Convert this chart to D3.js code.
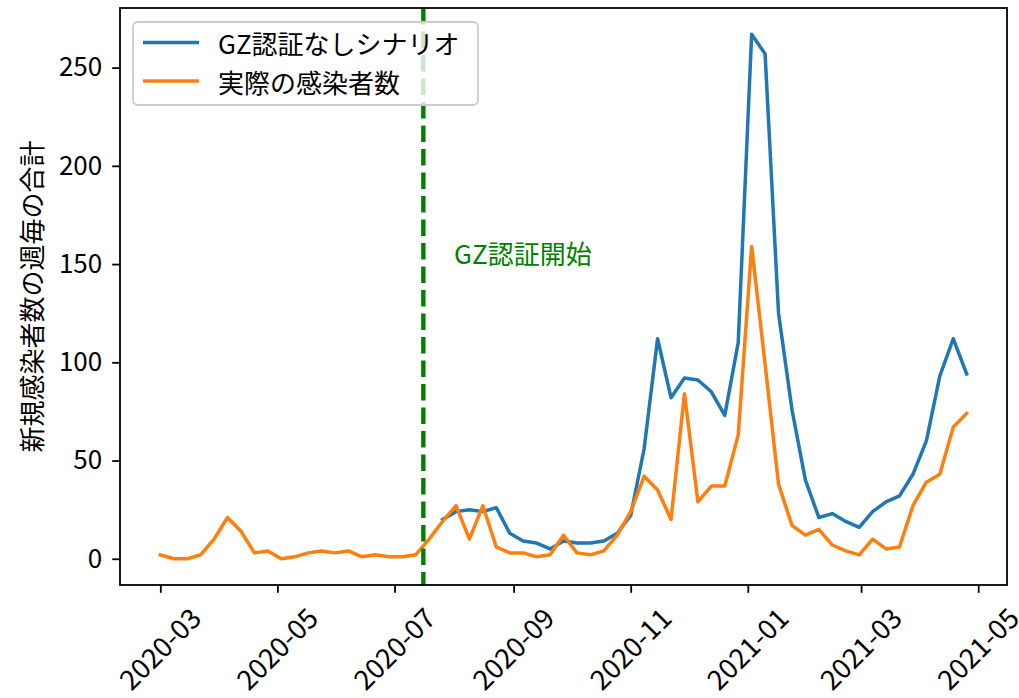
<!DOCTYPE html>
<html>
<head>
<meta charset="utf-8">
<script src="https://cdn.jsdelivr.net/npm/d3@7"></script>
<style>
  body { margin: 0; background: #fff; }
  svg { display: block; font-family: "Noto Sans CJK JP", "Noto Sans", sans-serif; }
</style>
</head>
<body>
<svg id="chart" width="1019" height="698"></svg>
<script>
// 週ごとの日付（日曜始まり）
const weeks = [
  "2020-03-01", "2020-03-08", "2020-03-15", "2020-03-22", "2020-03-29",
  "2020-04-05", "2020-04-12", "2020-04-19", "2020-04-26", "2020-05-03",
  "2020-05-10", "2020-05-17", "2020-05-24", "2020-05-31", "2020-06-07",
  "2020-06-14", "2020-06-21", "2020-06-28", "2020-07-05", "2020-07-12",
  "2020-07-19", "2020-07-26", "2020-08-02", "2020-08-09", "2020-08-16",
  "2020-08-23", "2020-08-30", "2020-09-06", "2020-09-13", "2020-09-20",
  "2020-09-27", "2020-10-04", "2020-10-11", "2020-10-18", "2020-10-25",
  "2020-11-01", "2020-11-08", "2020-11-15", "2020-11-22", "2020-11-29",
  "2020-12-06", "2020-12-13", "2020-12-20", "2020-12-27", "2021-01-03",
  "2021-01-10", "2021-01-17", "2021-01-24", "2021-01-31", "2021-02-07",
  "2021-02-14", "2021-02-21", "2021-02-28", "2021-03-07", "2021-03-14",
  "2021-03-21", "2021-03-28", "2021-04-04", "2021-04-11", "2021-04-18",
  "2021-04-25",
];

// GZ認証なしシナリオ（7/26 以降のみ）
const scenarioCases = [
  null, null, null, null, null, null, null, null, null, null,
  null, null, null, null, null, null, null, null, null, null,
  null, 20, 24, 25, 24, 26, 13, 9, 8, 5,
  9, 8, 8, 9, 13, 22, 56, 112, 82, 92,
  91, 85, 73, 110, 267, 257, 125, 76, 40, 21,
  23, 19, 16, 24, 29, 32, 43, 60, 93, 112,
  94,
];

// 実際の感染者数
const actualCases = [
  2, 0, 0, 2, 10, 21, 14, 3, 4, 0,
  1, 3, 4, 3, 4, 1, 2, 1, 1, 2,
  10, 19, 27, 10, 27, 6, 3, 3, 1, 2,
  12, 3, 2, 4, 12, 24, 42, 35, 20, 84,
  29, 37, 37, 63, 159, 99, 38, 17, 12, 15,
  7, 4, 2, 10, 5, 6, 27, 39, 43, 67,
  74,
];

const seriesNames = ["GZ認証なしシナリオ", "実際の感染者数"];
const seriesColors = ["#1f77b4", "#ff7f0e"];
const yTicks = [0, 50, 100, 150, 200, 250];
const xTickDates = ["2020-03-01", "2020-05-01", "2020-07-01", "2020-09-01",
  "2020-11-01", "2021-01-01", "2021-03-01", "2021-05-01"];
const gzStart = "2020-07-16";
const gzLabel = "GZ認証開始";
const gzLabelPos = { date: "2020-08-01", value: 150 };
const yLabel = "新規感染者数の週毎の合計";

const parse = d3.timeParse("%Y-%m-%d");
const dates = weeks.map(parse);
const fs = 26;
const xfs = 27.5;

const svg = d3.select("#chart");
const plot = { left: 120, right: 1007, top: 8, bottom: 585 };

const pad = 21 * 24 * 3600 * 1000;
const x = d3.scaleTime()
  .domain([+dates[0] - pad, +dates[dates.length - 1] + pad])
  .range([plot.left, plot.right]);

const maxVal = d3.max(scenarioCases.concat(actualCases));
const y = d3.scaleLinear()
  .domain([-maxVal * 0.05, maxVal * 1.05])
  .range([plot.bottom, plot.top]);

const line = d3.line()
  .defined((d) => d.v != null)
  .x((d) => x(d.date))
  .y((d) => y(d.v));

svg.append("clipPath").attr("id", "clip")
  .append("rect")
  .attr("x", plot.left).attr("y", plot.top)
  .attr("width", plot.right - plot.left).attr("height", plot.bottom - plot.top);

const inner = svg.append("g").attr("clip-path", "url(#clip)");

[scenarioCases, actualCases].forEach((values, i) => {
  inner.append("path")
    .datum(values.map((v, j) => ({ date: dates[j], v })))
    .attr("fill", "none")
    .attr("stroke", seriesColors[i])
    .attr("stroke-width", 3.5)
    .attr("stroke-linejoin", "round")
    .attr("stroke-linecap", "square")
    .attr("d", line);
});

// GZ認証開始の縦線
inner.append("line")
  .attr("x1", x(parse(gzStart))).attr("x2", x(parse(gzStart)))
  .attr("y1", plot.top).attr("y2", plot.bottom)
  .attr("stroke", "#008000")
  .attr("stroke-width", 4.4)
  .attr("stroke-dasharray", "16.4 7.1");

svg.append("text")
  .attr("x", x(parse(gzLabelPos.date)))
  .attr("y", y(gzLabelPos.value))
  .attr("fill", "#008000")
  .attr("font-size", fs)
  .text(gzLabel);

// 軸
const yAxis = svg.append("g")
  .attr("transform", `translate(${plot.left},0)`)
  .call(d3.axisLeft(y).tickValues(yTicks).tickSize(7.8).tickPadding(10).tickSizeOuter(0))
  .attr("font-family", null).attr("font-size", null);
yAxis.select(".domain").remove();
yAxis.selectAll("line").attr("stroke-width", 1.8);
yAxis.selectAll("text").attr("font-size", fs).attr("fill", "#000");

const xAxis = svg.append("g")
  .attr("transform", `translate(0,${plot.bottom})`)
  .call(d3.axisBottom(x).tickValues(xTickDates.map(parse))
    .tickFormat(d3.timeFormat("%Y-%m")).tickSize(7.8).tickSizeOuter(0))
  .attr("font-family", null).attr("font-size", null);
xAxis.select(".domain").remove();
xAxis.selectAll("line").attr("stroke-width", 1.8);
xAxis.selectAll("text")
  .attr("font-size", xfs).attr("fill", "#000")
  .attr("dy", null)
  .attr("text-anchor", "middle")
  .attr("dominant-baseline", "central")
  .attr("transform", function () {
    const len = this.getComputedTextLength();
    const ext = (len + xfs * 0.8) * Math.SQRT1_2;
    return `translate(-2,${19 + ext / 2}) rotate(-45)`;
  })
  .attr("y", 0);

svg.append("rect")
  .attr("x", plot.left).attr("y", plot.top)
  .attr("width", plot.right - plot.left).attr("height", plot.bottom - plot.top)
  .attr("fill", "none").attr("stroke", "#000").attr("stroke-width", 1.8);

svg.append("text")
  .attr("transform", `translate(30,${(plot.top + plot.bottom) / 2}) rotate(-90)`)
  .attr("text-anchor", "middle")
  .attr("dominant-baseline", "central")
  .attr("font-size", fs)
  .text(yLabel);

// 凡例
const legend = svg.append("g");
legend.append("rect")
  .attr("x", 133).attr("y", 22).attr("width", 345).attr("height", 83)
  .attr("rx", 5)
  .attr("fill", "#fff").attr("fill-opacity", 0.8)
  .attr("stroke", "#cccccc").attr("stroke-width", 1.8);

seriesNames.forEach((name, i) => {
  const cy = 42.5 + i * 38.5;
  legend.append("line")
    .attr("x1", 143).attr("x2", 199).attr("y1", cy).attr("y2", cy)
    .attr("stroke", seriesColors[i]).attr("stroke-width", 3.3);
  legend.append("text")
    .attr("x", 218).attr("y", cy)
    .attr("dominant-baseline", "central")
    .attr("font-size", fs)
    .text(name);
});
</script>
</body>
</html>
